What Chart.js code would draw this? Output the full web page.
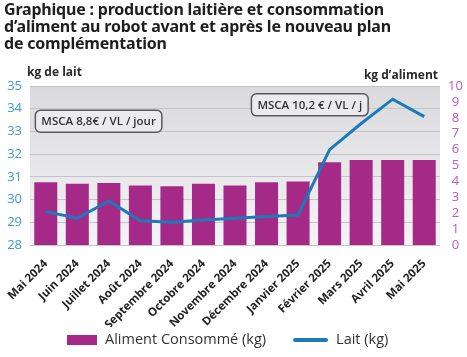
<!DOCTYPE html>
<html><head><meta charset="utf-8">
<script src="https://cdn.jsdelivr.net/npm/chart.js@4/dist/chart.umd.min.js"></script>
<style>
html,body{margin:0;padding:0;background:#fff;}
#wrap{position:relative;width:467px;height:357px;overflow:hidden;}
#title{position:absolute;left:4px;top:1px;font:bold 16px 'Noto Sans';line-height:17px;color:#1e1e1e;letter-spacing:-0.2px;white-space:nowrap;}
canvas{position:absolute;left:0;top:0;}
</style></head><body>
<div id="wrap"><canvas id="c" width="467" height="357"></canvas>
<div id="title">Graphique : production laitière et consommation<br>d’aliment au robot avant et après le nouveau plan<br>de complémentation</div></div>
<script>
const categories = ['Mai 2024','Juin 2024','Juillet 2024','Août 2024','Septembre 2024','Octobre 2024','Novembre 2024','Décembre 2024','Janvier 2025','Février 2025','Mars 2025','Avril 2025','Mai 2025'];
const alimentKg = [3.95, 3.85, 3.9, 3.75, 3.7, 3.85, 3.75, 3.95, 4.0, 5.2, 5.35, 5.35, 5.35];
const laitKg = [29.47, 29.18, 29.94, 29.07, 29.0, 29.1, 29.18, 29.25, 29.32, 32.2, 33.35, 34.42, 33.65];
const laitTicks = [28, 29, 30, 31, 32, 33, 34, 35];
const alimentTicks = [0,1,2,3,4,5,6,7,8,9,10];
const notes = [
  {text: 'MSCA 8,8€ / VL / jour', xIndex: -0.33, yValue: 33.45},
  {text: 'MSCA 10,2 € / VL / j', xIndex: 6.52, yValue: 34.17}
];

const bgPlugin = {
  id: 'bg',
  beforeDraw(chart) {
    const {ctx, chartArea: a} = chart;
    const g = ctx.createLinearGradient(0, a.top, 0, a.bottom);
    g.addColorStop(0, '#dadadd');
    g.addColorStop(1, '#f4f4f6');
    ctx.save();
    ctx.fillStyle = g;
    ctx.fillRect(a.left, a.top, a.right - a.left, a.bottom - a.top);
    ctx.restore();
  },
  afterDraw(chart) {
    const {ctx, chartArea: a, scales} = chart;
    ctx.save();
    ctx.fillStyle = '#2a2a2a';
    ctx.font = "bold 12px 'Open Sans'";
    ctx.textBaseline = 'middle';
    ctx.textAlign = 'left';
    ctx.fillText('kg de lait', 27, 73);
    ctx.textAlign = 'right';
    ctx.fillText('kg d’aliment', a.right - 2, 76);
    // notes
    ctx.font = "600 11.5px 'Open Sans'";
    ctx.textAlign = 'left';
    notes.forEach(n => {
      const x = scales.x.getPixelForValue(n.xIndex);
      const yc = scales.y.getPixelForValue(n.yValue);
      const w = ctx.measureText(n.text).width + 12;
      const h = 22;
      ctx.beginPath();
      ctx.roundRect(x, yc - h/2, w, h, 5);
      ctx.fillStyle = '#ebebed';
      ctx.fill();
      ctx.lineWidth = 1.5;
      ctx.strokeStyle = '#5a5a5a';
      ctx.stroke();
      ctx.fillStyle = '#333';
      ctx.fillText(n.text, x + 6, yc + 0.5);
    });
    // legend
    const ds = chart.data.datasets;
    const bar = ds[1], line = ds[0];
    const ly = 340;
    let lx = a.left + 37;
    ctx.font = "14.5px 'Open Sans'";
    ctx.fillStyle = bar.backgroundColor;
    ctx.fillRect(lx, ly - 5, 30, 10);
    lx += 38;
    ctx.fillStyle = '#333';
    ctx.fillText(bar.label, lx, ly);
    lx += ctx.measureText(bar.label).width + 27;
    ctx.beginPath();
    ctx.moveTo(lx + 2, ly); ctx.lineTo(lx + 33, ly);
    ctx.lineWidth = 4; ctx.lineCap = 'round';
    ctx.strokeStyle = line.borderColor; ctx.stroke();
    lx += 43;
    ctx.fillStyle = '#333';
    ctx.fillText(line.label, lx, ly);
    ctx.restore();
  }
};

new Chart(document.getElementById('c'), {
  data: {
    labels: categories,
    datasets: [
      {type: 'line', label: 'Lait (kg)', data: laitKg, yAxisID: 'y', borderColor: '#1b7bb8', backgroundColor: '#1b7bb8', borderWidth: 3, pointRadius: 0, tension: 0, order: 1},
      {type: 'bar', label: 'Aliment Consommé (kg)', data: alimentKg, yAxisID: 'y1', backgroundColor: '#a52a88', borderWidth: 0, barPercentage: 0.73, categoryPercentage: 1, order: 2}
    ]
  },
  options: {
    responsive: false,
    animation: false,
    layout: {padding: {top: 86, left: 0, right: 0, bottom: 30}},
    plugins: {
      title: {display: false},
      tooltip: {enabled: false},
      legend: {display: false}
    },
    scales: {
      x: {
        grid: {display: false}, border: {display: false},
        ticks: {autoSkip: false, maxRotation: 45, minRotation: 45, color: '#222', padding: 4, font: {family: 'Open Sans', size: 11.5, weight: 'bold'}},
        afterFit(s) { s.height = 82; }
      },
      y: {
        position: 'left', min: 28, max: 35,
        afterBuildTicks(s) { s.ticks = laitTicks.map(v => ({value: v})); },
        grid: {color: '#c4c4c8', lineWidth: 1, drawTicks: false},
        border: {display: false},
        ticks: {autoSkip: false, color: '#3d9ad1', padding: 8, font: {family: 'Open Sans', size: 13}},
        afterFit(s) { s.width = 30; }
      },
      y1: {
        position: 'right', min: 0, max: 10,
        afterBuildTicks(s) { s.ticks = alimentTicks.map(v => ({value: v})); },
        grid: {display: false, drawTicks: false},
        border: {display: false},
        ticks: {autoSkip: false, color: '#c25bb3', padding: 8, crossAlign: 'center', font: {family: 'Open Sans', size: 13}},
        afterFit(s) { s.width = 27; }
      }
    }
  },
  plugins: [bgPlugin]
});
</script>
</body></html>
